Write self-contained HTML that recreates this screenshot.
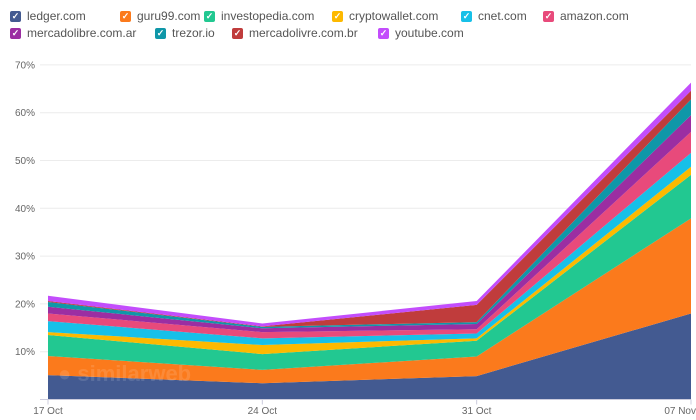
<!DOCTYPE html>
<html><head><meta charset="utf-8"><style>
body{margin:0;width:696px;height:420px;background:#fff;font-family:"Liberation Sans",sans-serif;overflow:hidden;position:relative}
.lg{position:absolute;display:flex;align-items:center;font-size:12px;color:#555;white-space:nowrap}
.cb{width:11px;height:11px;border-radius:2px;margin-right:6px;color:#fff;font-size:9px;line-height:11px;text-align:center;font-weight:bold}
svg{position:absolute;left:0;top:0}
</style></head><body>
<div id="legend"></div>
<svg id="chart" width="696" height="420"></svg>
<script>
const categories=["17 Oct","24 Oct","31 Oct","07 Nov"];
const sites=["ledger.com","guru99.com","investopedia.com","cryptowallet.com","cnet.com","amazon.com","mercadolibre.com.ar","trezor.io","mercadolivre.com.br","youtube.com"];
const colors=["#435a91","#fb7a1c","#22c891","#fdb900","#17c0e8","#e84a7b","#9b2ea2","#0f97a8","#c03c3c","#c34dfc"];
const ledger=[5.1,3.4,4.9,18.0];
const guru99=[4.0,2.8,4.1,19.9];
const investopedia=[4.4,3.3,3.3,9.1];
const cryptowallet=[0.6,1.9,0.5,1.7];
const cnet=[2.3,1.4,1.0,2.9];
const amazon=[1.6,1.3,0.9,4.4];
const mercadolibre=[1.4,0.8,1.1,3.5];
const trezor=[1.0,0.3,0.4,3.3];
const mercadolivre=[0.2,0.1,3.6,1.8];
const youtube=[1.1,0.6,0.8,1.7];
const series=[ledger,guru99,investopedia,cryptowallet,cnet,amazon,mercadolibre,trezor,mercadolivre,youtube];
const yTicks=[10,20,30,40,50,60,70];
const legendPos=[[10,9],[120,9],[204,9],[332,9],[461,9],[543,9],[10,26],[155,26],[232,26],[378,26]];
const NS="http://www.w3.org/2000/svg";
const svg=document.getElementById('chart');
const x0=48,x1=691,y0=399.5,pxPer=4.78;
const X=i=>x0+(x1-x0)*i/(categories.length-1);
const Y=v=>y0-v*pxPer;
function mk(t,a){const e=document.createElementNS(NS,t);for(const k in a)e.setAttribute(k,a[k]);svg.appendChild(e);return e;}
yTicks.forEach(t=>{
 const l=mk('line',{x1:40,x2:691,y1:Y(t),y2:Y(t),stroke:'#ececec','stroke-width':1});
 
 
 const tx=mk('text',{x:35,y:Y(t)+3.5,'text-anchor':'end','font-size':10,fill:'#666'});
 tx.textContent=t+'%';
 
 
});
let base=categories.map(()=>0);
series.forEach((s,si)=>{
 const top=base.map((b,i)=>b+s[i]);
 let d='M'+categories.map((c,i)=>X(i)+','+Y(top[i])).join(' L');
 for(let i=categories.length-1;i>=0;i--)d+=' L'+X(i)+','+Y(base[i]);
 const p=mk('path',{d:d+'Z',fill:colors[si]});
 
 
 base=top;
});
const wm=mk('text',{x:58,y:381,'font-size':22,fill:'#ffffff','font-weight':'bold',opacity:0.12});
wm.textContent='● similarweb';


mk('line',{x1:40,x2:691,y1:y0,y2:y0,stroke:'#ccd','stroke-width':1});
categories.forEach((c,i)=>{
 mk('line',{x1:X(i),x2:X(i),y1:y0,y2:y0+5,stroke:'#ccd'});
 const t=mk('text',{x:X(i),y:414,'text-anchor':i==3?'end':'middle','font-size':10,fill:'#666'});
 if(i==3)t.setAttribute('x',696);
 t.textContent=c;
 
 
});
const lg=document.getElementById('legend');
sites.forEach((s,i)=>{
 const d=document.createElement('div');
 d.className='lg';d.style.left=legendPos[i][0]+'px';d.style.top=legendPos[i][1]+'px';
 d.innerHTML='<span class="cb" style="background:'+colors[i]+'">✓</span>'+s;
 
 
 lg.appendChild(d);
});
</script>
</body></html>
